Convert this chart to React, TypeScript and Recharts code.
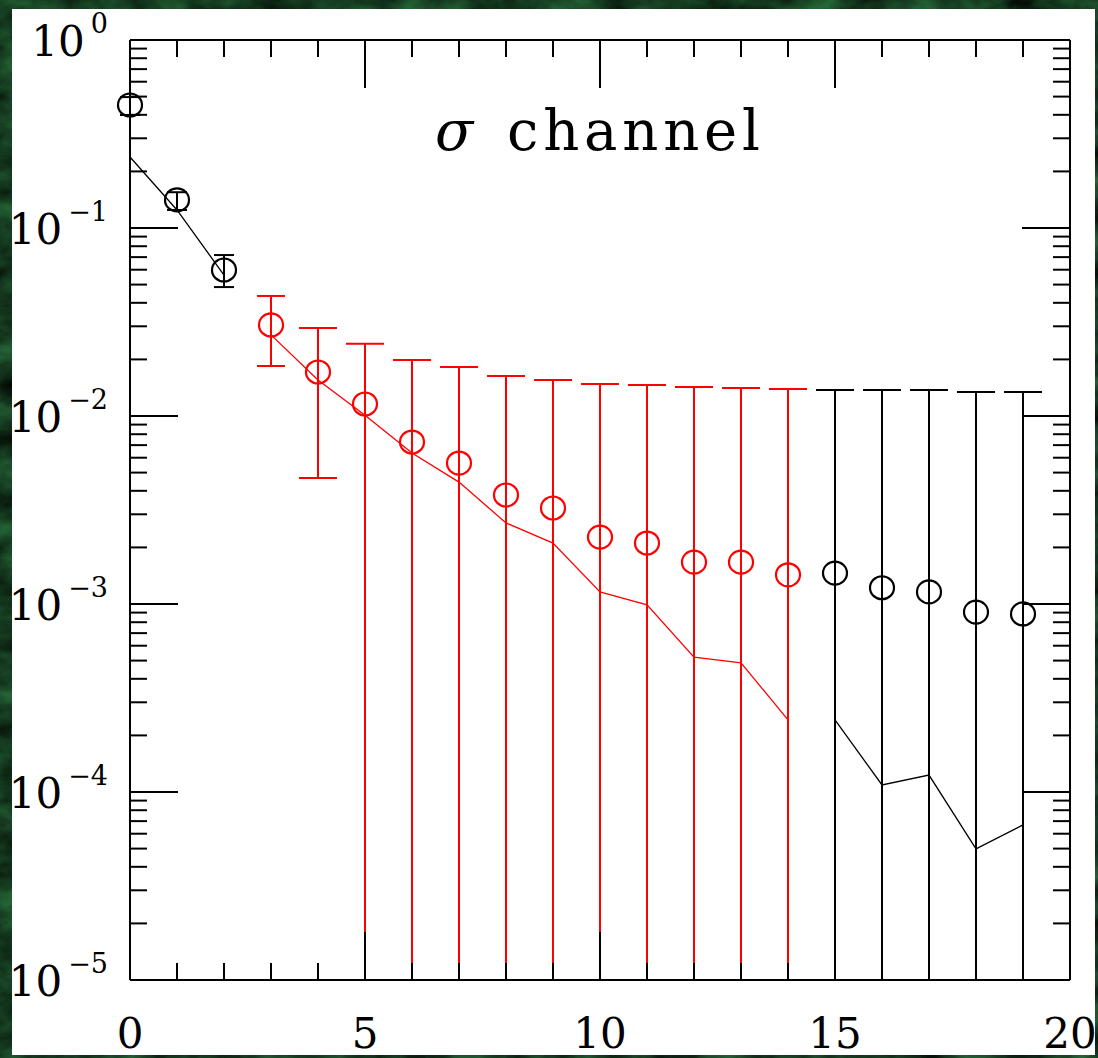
import React from 'react'
import { ComposedChart, Scatter, Line, XAxis, YAxis, ErrorBar } from 'recharts'

// lattice time slices
const xs = [0, 1, 2, 3, 4, 5, 6, 7, 8, 9, 10, 11, 12, 13, 14, 15, 16, 17, 18, 19]
// measured correlator (open circles)
const meanValues = [0.451, 0.141, 0.0598, 0.0305, 0.01714, 0.01158, 0.00727, 0.00562, 0.0038, 0.00324, 0.00227, 0.00211, 0.00167, 0.00167, 0.00143, 0.00146, 0.00122, 0.00116, 0.000906, 0.000885]
// top of each error bar
const upperValues = [0.497, 0.155, 0.0718, 0.0435, 0.0294, 0.0242, 0.01986, 0.01824, 0.01633, 0.01554, 0.0148, 0.01462, 0.01426, 0.0141, 0.01393, 0.01376, 0.01376, 0.01376, 0.01342, 0.01342]
// bottom of each error bar, 0 = runs off the bottom of the axis
const lowerValues = [0.399, 0.1247, 0.0485, 0.01845, 0.00468, 0, 0, 0, 0, 0, 0, 0, 0, 0, 0, 0, 0, 0, 0, 0]
// solid line
const fitValues = [0.2385, 0.1247, 0.0562, 0.027, 0.01554, 0.0101, 0.00635, 0.00445, 0.0027, 0.00211, 0.00116, 0.000989, 0.000522, 0.000486, 0.000242, 0.000242, 0.000109, 0.000123, 0.0000498, 0.0000668]
const redFrom = 3
const redTo = 14

const xTicks = [0, 1, 2, 3, 4, 5, 6, 7, 8, 9, 10, 11, 12, 13, 14, 15, 16, 17, 18, 19, 20]
const xLabelTicks = [0, 5, 10, 15, 20]
const decades = [-5, -4, -3, -2, -1, 0]
const minorMults = [2, 3, 4, 5, 6, 7, 8, 9]
const yMin = 1e-5
const yMax = 1

const RED = '#ff0000'
const BLACK = '#000000'
const FONT = '"DejaVu Serif", "Liberation Serif", serif'

const yTicks: number[] = []
decades.forEach(d => {
    yTicks.push(Math.pow(10, d))
    if (d < 0) minorMults.forEach(m => yTicks.push(Number((m * Math.pow(10, d)).toPrecision(3))))
})

const isRed = (i: number) => i >= redFrom && i <= redTo

// bars that run off the axis stop at the axis floor, the frame hides their cap
const points = xs.map((x, i) => {
    const low = lowerValues[i] > 0 ? lowerValues[i] : yMin
    return { x, y: meanValues[i], err: [meanValues[i] - low, upperValues[i] - meanValues[i]] }
})

const lineRows = xs.map((x, i) => ({
    x,
    fitBlack: isRed(i) ? null : fitValues[i],
    fitRed: isRed(i) ? fitValues[i] : null,
}))

const isDecade = (v: number) => {
    const l = Math.log10(v)
    return Math.abs(l - Math.round(l)) < 1e-6
}

const LeftTick = (p: any) => {
    const { x, y, payload } = p
    const v = payload.value
    const major = isDecade(v)
    const e = Math.round(Math.log10(v))
    return (
        <g>
            <line x1={x} x2={x + (major ? 48 : 17)} y1={y} y2={y} stroke={BLACK} strokeWidth={2} />
            {major && (
                <text x={x - 22} y={y + 16} textAnchor="end" fontFamily={FONT} fontSize={42} fill={BLACK}>
                    10<tspan dy={-23} dx={6} fontSize={27}>{e === 0 ? '0' : '\u2212' + -e}</tspan>
                </text>
            )}
        </g>
    )
}

const RightTick = (p: any) => {
    const { x, y, payload } = p
    const major = isDecade(payload.value)
    return <line x1={x} x2={x - (major ? 48 : 17)} y1={y} y2={y} stroke={BLACK} strokeWidth={2} />
}

const BottomTick = (p: any) => {
    const { x, y, payload } = p
    const v = payload.value
    const major = v % 5 === 0
    return (
        <g>
            <line x1={x} x2={x} y1={y} y2={y - (major ? 48 : 17)} stroke={BLACK} strokeWidth={2} />
            {xLabelTicks.includes(v) && (
                <text x={x} y={y + 68} textAnchor="middle" fontFamily={FONT} fontSize={42} fill={BLACK}>{v}</text>
            )}
        </g>
    )
}

const TopTick = (p: any) => {
    const { x, y, payload } = p
    const major = payload.value % 5 === 0
    return <line x1={x} x2={x} y1={y} y2={y + (major ? 48 : 17)} stroke={BLACK} strokeWidth={2} />
}

const ring = (color: string) => (p: any) => (
    <ellipse cx={p.cx} cy={p.cy} rx={12} ry={11.5} fill="none" stroke={color} strokeWidth={2.2} />
)

const groups = [
    { from: 0, to: 2, color: BLACK, cap: 10 },
    { from: 3, to: 3, color: RED, cap: 14 },
    { from: 4, to: 14, color: RED, cap: 19 },
    { from: 15, to: 19, color: BLACK, cap: 19 },
]

export default function App() {
    return (
        <div style={{ position: 'absolute', left: 0, top: 0, width: 1098, height: 1058, overflow: 'hidden' }}>
            <svg width={1098} height={1058} style={{ position: 'absolute', left: 0, top: 0 }}>
                <defs>
                    <filter id="marble" x="0" y="0" width="100%" height="100%" colorInterpolationFilters="sRGB">
                        <feTurbulence type="fractalNoise" baseFrequency="0.02 0.035" numOctaves={4} seed={7} />
                        <feColorMatrix type="matrix" values="0.2 0 0 0 -0.02  0.55 0 0 0 -0.05  0.3 0 0 0 -0.03  0 0 0 0 1" />
                    </filter>
                </defs>
                <rect width={1098} height={1058} fill="#17421f" />
                <rect width={1098} height={1058} filter="url(#marble)" />
            </svg>
            <div style={{ position: 'absolute', left: 12, top: 9, width: 1083, height: 1046, background: '#ffffff' }}>
                <ComposedChart width={1083} height={1046} data={lineRows} margin={{ top: 0, right: 0, bottom: 0, left: 0 }}>
                    <XAxis
                        dataKey="x" type="number" domain={[0, 20]} ticks={xTicks} interval={0}
                        height={75} tickSize={0} tickMargin={0} tick={<BottomTick />}
                        axisLine={{ stroke: BLACK, strokeWidth: 2 }}
                    />
                    <XAxis
                        xAxisId="top" orientation="top" dataKey="x" type="number" domain={[0, 20]} ticks={xTicks}
                        interval={0} height={31} tickSize={0} tickMargin={0} tick={<TopTick />}
                        axisLine={{ stroke: BLACK, strokeWidth: 2 }}
                    />
                    <YAxis
                        dataKey="y" scale="log" type="number" domain={[yMin, yMax]} ticks={yTicks} interval={0}
                        width={118} tickSize={0} tickMargin={0} tick={<LeftTick />}
                        axisLine={{ stroke: BLACK, strokeWidth: 2 }} allowDataOverflow
                    />
                    <YAxis
                        yAxisId="right" orientation="right" scale="log" type="number" domain={[yMin, yMax]} ticks={yTicks}
                        interval={0} width={25} tickSize={0} tickMargin={0} tick={<RightTick />}
                        axisLine={{ stroke: BLACK, strokeWidth: 2 }} allowDataOverflow
                    />
                    <Line dataKey="fitBlack" stroke={BLACK} strokeWidth={1.3} dot={false} connectNulls={false} isAnimationActive={false} />
                    <Line dataKey="fitRed" stroke={RED} strokeWidth={1.3} dot={false} connectNulls={false} isAnimationActive={false} />
                    {groups.map((g, k) => (
                        <Scatter
                            key={k}
                            data={points.slice(g.from, g.to + 1)}
                            shape={ring(g.color)}
                            isAnimationActive={false}
                        >
                            <ErrorBar dataKey="err" direction="y" width={g.cap} stroke={g.color} strokeWidth={2} isAnimationActive={false} />
                        </Scatter>
                    ))}
                </ComposedChart>
            </div>
            <svg width={1098} height={1058} style={{ position: 'absolute', left: 0, top: 0, pointerEvents: 'none' }}>
                <text x={435} y={150} fontFamily={FONT} fontSize={56} fontStyle="italic" fill={BLACK}>σ</text>
                <text x={507} y={150} fontFamily={FONT} fontSize={56} fill={BLACK} textLength={253} lengthAdjust="spacing">channel</text>
            </svg>
        </div>
    )
}
